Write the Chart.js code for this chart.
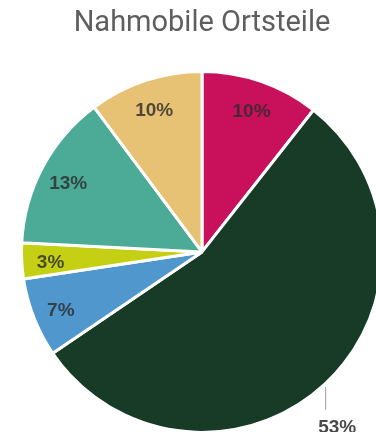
<!DOCTYPE html>
<html>
<head>
<meta charset="utf-8">
<script src="https://cdn.jsdelivr.net/npm/chart.js@4/dist/chart.umd.min.js"></script>
<style>
    html, body { margin: 0; padding: 0; background: #fff; overflow: hidden; }
    .wrap { position: relative; width: 404px; height: 440px; }
</style>
</head>
<body>
<div class="wrap"><canvas id="pieChart"></canvas></div>
<script>
const categories = ['Kategorie 1', 'Kategorie 2', 'Kategorie 3', 'Kategorie 4', 'Kategorie 5', 'Kategorie 6'];
const shares = [10.6, 54.9, 7.1, 3.2, 14.0, 10.2];
const shareLabels = ['10%', '53%', '7%', '3%', '13%', '10%'];
const sliceColors = ['#c9115b', '#173b27', '#4f97cd', '#c5d014', '#4bab97', '#e8c274'];
const outsideIndex = 1;

// Prozentwerte auf die Segmente schreiben
const sliceLabels = {
    id: 'sliceLabels',
    afterDatasetsDraw(chart) {
        const ctx = chart.ctx;
        const meta = chart.getDatasetMeta(0);
        ctx.save();
        ctx.font = 'bold 19px "Liberation Sans", Arial, sans-serif';
        ctx.textAlign = 'center';
        meta.data.forEach((arc, i) => {
            const { x, y, startAngle, endAngle, outerRadius } = arc.getProps(['x', 'y', 'startAngle', 'endAngle', 'outerRadius'], true);
            const mid = (startAngle + endAngle) / 2;
            if (i === outsideIndex) {
                const ex = x + Math.cos(mid) * outerRadius;
                const ey = y + Math.sin(mid) * outerRadius;
                ctx.strokeStyle = '#9a9a9a';
                ctx.lineWidth = 1;
                ctx.beginPath();
                ctx.moveTo(ex + 0.5, ey + 3);
                ctx.lineTo(ex + 0.5, ey + 26);
                ctx.stroke();
                ctx.fillStyle = '#4a4a4a';
                ctx.textBaseline = 'alphabetic';
                ctx.fillText(shareLabels[i], ex + 12, ey + 49);
            } else {
                const r = outerRadius * 0.84;
                ctx.fillStyle = 'rgba(45, 45, 45, 0.82)';
                ctx.textBaseline = 'middle';
                ctx.fillText(shareLabels[i], x + Math.cos(mid) * r, y + Math.sin(mid) * r + 3);
            }
        });
        ctx.restore();
    }
};

const ctx = document.getElementById('pieChart').getContext('2d');
new Chart(ctx, {
    type: 'pie',
    data: {
        labels: categories,
        datasets: [{
            data: shares,
            backgroundColor: sliceColors,
            borderColor: '#ffffff',
            borderWidth: 3
        }]
    },
    options: {
        responsive: true,
        maintainAspectRatio: false,
        animation: false,
        layout: { padding: { left: 20, right: 20, top: 0, bottom: 6 } },
        plugins: {
            legend: { display: false },
            tooltip: { enabled: false },
            title: {
                display: true,
                text: 'Nahmobile Ortsteile',
                color: '#5e5e5e',
                font: { family: 'Roboto, "Noto Sans", sans-serif', size: 29, weight: 'normal', lineHeight: 1.2 },
                padding: { top: 6, bottom: 29 }
            }
        }
    },
    plugins: [sliceLabels]
});
</script>
</body>
</html>
